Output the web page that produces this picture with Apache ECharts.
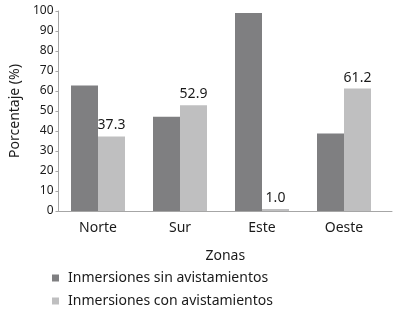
<!DOCTYPE html>
<html><head><meta charset="utf-8">
<script src="https://cdn.jsdelivr.net/npm/echarts@6/dist/echarts.min.js"></script>
<style>html,body{margin:0;padding:0;background:#fff}#c{width:394px;height:330px}</style>
</head><body><div id="c"></div>
<script>
const categories = ['Norte', 'Sur', 'Este', 'Oeste'];
const sinAvist = [62.7, 47.1, 99.0, 38.8];
const conAvist = [37.3, 52.9, 1.0, 61.2];
const seriesNames = ['Inmersiones sin avistamientos', 'Inmersiones con avistamientos'];
const yTicks = {min: 0, max: 100, interval: 10};

const FONT = 'Noto Sans';
const chart = echarts.init(document.getElementById('c'), null, {renderer: 'canvas'});
chart.setOption({
  animation: false,
  textStyle: {fontFamily: FONT},
  grid: [
    {left: 57, right: 9, top: 11, bottom: 119},
    {left: 49, right: 2, top: 11, bottom: 119}
  ],
  xAxis: [
    {type: 'category', gridIndex: 0, data: categories,
     axisLine: {show: false}, axisTick: {show: false},
     axisLabel: {fontSize: 14, color: '#1a1a1a', margin: 10, fontFamily: FONT}},
    {type: 'value', gridIndex: 1, min: 0, max: 1,
     axisLine: {show: true, lineStyle: {color: '#a6a6a6', width: 1}},
     axisTick: {show: false}, axisLabel: {show: false}, splitLine: {show: false},
     name: 'Zonas', nameLocation: 'middle', nameGap: 38,
     nameTextStyle: {fontSize: 14, color: '#1a1a1a', fontFamily: FONT}}
  ],
  yAxis: [
    {type: 'value', gridIndex: 0, min: yTicks.min, max: yTicks.max, interval: yTicks.interval, show: false},
    {type: 'value', gridIndex: 1, min: yTicks.min, max: yTicks.max, interval: yTicks.interval,
     axisLine: {show: true, lineStyle: {color: '#a6a6a6', width: 1}},
     axisTick: {show: true, length: 3, lineStyle: {color: '#a6a6a6'}},
     splitLine: {show: false},
     axisLabel: {fontSize: 12, color: '#1a1a1a', margin: 5, fontFamily: FONT},
     name: 'Porcentaje (%)', nameLocation: 'middle', nameGap: 32,
     nameTextStyle: {fontSize: 14, color: '#1a1a1a', fontFamily: FONT}}
  ],
  legend: {
    orient: 'vertical', left: 47, top: 266, itemWidth: 7, itemHeight: 7, itemGap: 9,
    icon: 'rect',
    textStyle: {fontSize: 14, color: '#1a1a1a', fontFamily: FONT, padding: [0, 0, 0, 4]},
    data: seriesNames
  },
  series: [
    {name: seriesNames[0], type: 'bar', xAxisIndex: 0, yAxisIndex: 0, data: sinAvist,
     barWidth: 27, barGap: '0%', itemStyle: {color: '#7f7f81'}},
    {name: seriesNames[1], type: 'bar', xAxisIndex: 0, yAxisIndex: 0, data: conAvist,
     barWidth: 27, barGap: '0%', itemStyle: {color: '#bfbfc0'},
     label: {show: true, position: 'top', distance: 4, fontSize: 14, color: '#1a1a1a', fontFamily: FONT,
       formatter: p => p.value.toFixed(1)}}
  ]
});
</script></body></html>
